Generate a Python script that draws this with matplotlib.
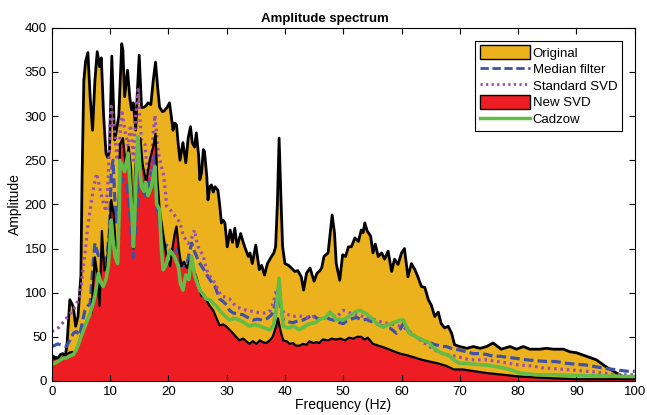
import numpy as np
import matplotlib.pyplot as plt
from matplotlib.patches import Patch
from matplotlib.lines import Line2D

plt.rcParams['font.family'] = ['Liberation Sans', 'DejaVu Sans']

# Original spectrum (frequency in Hz, amplitude)
f_orig = [0, 0.5, 1.1, 1.5, 1.9, 2.3, 2.6, 3.1, 3.7, 4.1, 4.5, 5.0, 5.2, 5.5, 5.8, 6.2, 6.6,
          7.0, 7.4, 7.8, 8.2, 8.5, 8.9, 9.3, 9.6, 9.9, 10.3, 10.8, 11.1, 11.5, 12.0, 12.2,
          12.5, 13.0, 13.4, 13.7, 14.0, 14.4, 14.7, 15.0, 15.4, 15.8, 16.2, 16.5, 17.0,
          17.4, 17.8, 18.2, 18.5, 19.0, 19.3, 19.8, 20.2, 20.5, 20.8, 21.1, 21.4, 21.7,
          22.0, 22.5, 23.0, 23.4, 23.8, 24.1, 24.5, 24.8, 25.2, 25.4, 25.7, 26.0, 26.2,
          26.6, 26.8, 27.1, 27.4, 27.7, 28.0, 28.5, 28.8, 29.1, 29.4, 29.7, 30.1, 30.6,
          31.0, 31.4, 31.8, 32.4, 32.8, 33.1, 33.7, 34.0, 34.4, 35.0, 35.3, 35.6, 36.0,
          36.5, 37.0, 37.7, 38.1, 38.4, 38.7, 39.0, 39.3, 39.6, 40.0, 40.6, 41.1, 41.7,
          42.2, 42.8, 43.2, 43.7, 44.3, 45.0, 45.5, 46.0, 46.3, 46.7, 47.4, 47.8, 48.1,
          48.5, 48.8, 49.4, 49.9, 50.4, 50.9, 51.4, 52.0, 52.6, 53.1, 53.4, 53.7, 54.1,
          54.7, 55.1, 55.5, 56.0, 56.6, 57.1, 57.7, 58.3, 58.8, 59.4, 60.0, 60.5, 61.1,
          61.7, 62.3, 62.8, 63.4, 64.0, 64.6, 65.1, 65.7, 66.3, 66.8, 67.4, 68.0, 68.6,
          69.1, 70.0, 71.2, 72.3, 73.5, 74.6, 75.7, 76.3, 77.1, 78.6, 79.7, 80.9, 82.0,
          83.7, 84.9, 86.0, 87.8, 88.9, 90.0, 91.7, 93.4, 95.1, 96.9, 98.0, 100]
a_orig = [29, 27, 26, 30, 31, 28, 40, 92, 84, 62, 73, 120, 230, 340, 362, 372, 320,
          284, 340, 373, 356, 366, 300, 258, 253, 260, 368, 273, 284, 300, 382, 375,
          322, 352, 320, 307, 315, 284, 330, 369, 310, 310, 312, 315, 313,
          340, 361, 330, 310, 305, 306, 310, 315, 300, 284, 292, 290, 268,
          250, 270, 247, 275, 288, 270, 265, 281, 255, 228, 236, 262, 260,
          231, 205, 220, 222, 214, 220, 216, 200, 179, 182, 179, 152, 171,
          157, 173, 152, 167, 158, 152, 141, 145, 133, 154, 140, 126, 131,
          120, 133, 141, 145, 152, 200, 275, 210, 152, 133, 131, 128, 124,
          125, 118, 103, 122, 128, 113, 122, 125, 128, 141, 145, 170, 188,
          168, 133, 114, 143, 141, 152, 152, 162, 158, 171, 168, 179, 170,
          164, 145, 155, 141, 145, 138, 147, 124, 138, 132, 145, 150, 118,
          133, 126, 118, 107, 106, 92, 86, 73, 78, 65, 60, 62, 54,
          41, 39, 37, 39, 37, 39, 43, 40, 36, 39, 36, 39, 36,
          36, 37, 36, 36, 33, 32, 28, 24, 16, 9, 5, 4]

# Median filter
f_med = [0, 0.4, 1.0, 1.5, 2.0, 2.5, 3.1, 3.7, 4.2, 4.8, 5.2, 5.7, 6.2, 6.6, 7.0, 7.4,
         8.0, 8.5, 9.0, 9.3, 9.9, 10.2, 10.5, 11.0, 11.5, 12, 13, 14, 15, 16, 17, 17.7,
         18.2, 18.8, 19.3, 19.7, 20.2, 20.6, 21.1, 21.5, 22.0, 22.6, 23.2, 23.6, 24.0,
         24.4, 24.8, 25.2, 25.7, 26.2, 26.8, 27.4, 28.0, 28.4, 28.8, 29.4, 30.0, 30.5,
         31.1, 31.9, 32.8, 33.6, 34.5, 35.3, 36.2, 37.0, 37.7, 38.3, 38.8, 39.2, 39.7,
         40.5, 41.4, 42.2, 43.1, 44.0, 44.8, 45.6, 46.5, 47.1, 47.7, 48.3, 48.8, 49.4,
         50.0, 50.6, 51.2, 51.8, 52.3, 52.9, 53.4, 54.0, 54.5, 55.1, 55.7, 56.3, 56.9,
         57.5, 58.0, 58.6, 59.1, 59.7, 60.3, 60.8, 61.4, 62.0, 62.5, 63.1, 63.7, 64.3,
         65.0, 65.8, 66.5, 67.1, 67.7, 68.5, 69.3, 70.0, 71.2, 72.3, 73.5, 74.6, 75.7,
         76.9, 78.0, 79.1, 80.3, 81.4, 83.0, 84.9, 86.5, 88.3, 90.0, 91.7, 93.4, 95.1,
         96.5, 97.4, 98.8, 100]
a_med = [39, 40, 42, 41, 40, 39, 46, 54, 56, 52, 65, 80, 85, 88, 125, 156,
         142, 145, 138, 130, 170, 235, 250, 180, 200, 230, 220, 140, 230, 210, 230, 255,
         190, 165, 150, 154, 150, 148, 141, 150, 137, 130, 133, 145, 156,
         148, 142, 135, 130, 125, 118, 112, 107, 100, 93, 90, 86, 80,
         77, 76, 75, 72, 69, 70, 69, 71, 75, 85, 103, 85, 69,
         67, 66, 68, 69, 72, 75, 70, 71, 72, 70, 69, 68, 66,
         65, 68, 70, 71, 72, 70, 69, 70, 68, 67, 65, 63, 62,
         61, 60, 57, 54, 58, 65, 60, 54, 52, 50, 48, 46, 44,
         43, 41, 40, 39, 39, 37, 36, 35, 33, 31, 31, 30, 28,
         28, 27, 26, 25, 24, 23, 22, 22, 20, 19, 18, 16, 14,
         13, 12, 11, 11]

# Standard SVD
f_ssvd = [0, 0.6, 1.3, 1.9, 2.5, 3.1, 3.7, 4.3, 4.8, 5.1, 5.4, 5.8, 6.1, 6.5, 6.8, 7.2,
          7.7, 8.2, 8.7, 9.3, 9.7, 10.0, 10.2, 10.5, 10.8, 11.2, 11.6, 12.0, 12.5, 13.1,
          13.5, 13.7, 14.0, 14.4, 14.8, 15.1, 15.4, 16.0, 16.5, 17.0, 17.4, 17.7, 18.0,
          18.3, 18.7, 19.1, 19.5, 19.7, 20.2, 20.8, 21.4, 22.0, 22.6, 23.0, 23.4, 23.9,
          24.5, 24.8, 25.1, 25.6, 26.0, 26.4, 26.8, 27.4, 28.0, 28.6, 29.1, 29.8, 30.5,
          31.1, 31.7, 32.5, 33.4, 34.2, 35.1, 36.0, 36.8, 37.5, 38.0, 38.5, 39.0, 39.4,
          39.8, 40.6, 41.4, 42.2, 43.0, 43.9, 44.8, 45.6, 46.5, 47.1, 47.7, 48.3, 48.8,
          49.4, 50.0, 50.6, 51.2, 51.8, 52.4, 53.4, 54.5, 55.7, 56.8, 58.0, 59.1, 60.3,
          61.4, 62.5, 63.7, 64.8, 66.0, 67.1, 68.3, 69.4, 70.5, 71.7, 73.2, 74.6, 76.5,
          78.5, 80.3, 82.5, 84.0, 86.0, 88.0, 90.0, 91.7, 93.5, 95.5, 97.4, 100]
a_ssvd = [56, 58, 61, 66, 71, 76, 80, 88, 96, 110, 129, 150, 171, 190, 204, 220,
          235, 220, 205, 192, 230, 290, 311, 295, 280, 250, 270, 307, 285, 266,
          290, 280, 250, 300, 330, 300, 272, 268, 228, 240, 280, 301, 280,
          258, 245, 236, 215, 198, 195, 190, 185, 179, 164, 160, 156, 160,
          171, 160, 152, 146, 141, 130, 122, 116, 111, 102, 96, 95, 93,
          88, 84, 82, 80, 79, 78, 77, 77, 80, 88, 103, 95, 84,
          77, 75, 73, 74, 73, 72, 73, 71, 69, 73, 77, 74, 72,
          76, 80, 78, 77, 76, 75, 73, 71, 69, 66, 65, 63, 61,
          56, 50, 44, 39, 34, 31, 29, 28, 26, 24, 24, 24, 22,
          20, 18, 17, 15, 14, 13, 12, 11, 10, 8, 7, 7]

# New SVD
f_nsvd = [0, 0.5, 1.0, 1.5, 2.0, 2.5, 3.0, 3.5, 4.0, 4.5, 5.0, 5.5, 6.0, 6.5, 6.8, 7.1,
          7.4, 7.8, 8.2, 8.6, 9.0, 9.4, 9.8, 10.2, 10.6, 11.0, 11.3, 11.7, 12.2, 12.7,
          13.2, 13.6, 14.0, 14.3, 14.8, 15.2, 15.6, 16.2, 16.8, 17.4, 17.8, 18.1, 18.5,
          19.1, 19.7, 20.3, 20.7, 21.1, 21.4, 21.8, 22.2, 22.7, 23.2, 23.6, 24.0, 24.4,
          24.8, 25.2, 25.7, 26.1, 26.5, 27.1, 27.7, 28.2, 28.8, 29.4, 29.9, 30.5, 31.1,
          31.6, 32.2, 32.8, 33.4, 33.9, 34.5, 35.1, 35.7, 36.2, 36.8, 37.4, 37.9, 38.4,
          38.8, 39.2, 39.7, 40.3, 40.8, 41.4, 41.9, 42.5, 43.1, 43.7, 44.2, 44.8, 45.4,
          45.9, 46.5, 47.4, 48.0, 48.8, 49.5, 50.3, 51.0, 51.7, 52.4, 53.1, 53.7, 54.2,
          55.1, 56.0, 57.4, 58.5, 59.7, 61.0, 62.5, 63.5, 64.8, 66.2, 67.7, 69.0, 70.5,
          72.5, 74.6, 77.5, 80.3, 83, 86, 90, 95, 100]
a_nsvd = [27, 25, 26, 24, 28, 30, 32, 33, 32, 40, 52, 60, 68, 75, 77, 110,
          140, 120, 85, 170, 125, 130, 160, 205, 190, 150, 140, 268, 275, 245,
          265, 240, 150, 240, 270, 275, 245, 225, 250, 265, 280, 230, 195,
          167, 141, 130, 150, 167, 175, 150, 130, 135, 128, 135, 141, 125,
          118, 108, 96, 98, 92, 85, 80, 72, 63, 64, 62, 58, 54,
          50, 46, 48, 45, 42, 45, 42, 46, 44, 43, 46, 50, 60,
          71, 58, 46, 45, 42, 43, 40, 40, 42, 41, 45, 43, 44,
          43, 47, 46, 48, 47, 48, 46, 49, 48, 50, 50, 47, 49,
          42, 40, 37, 34, 31, 29, 26, 24, 22, 20, 17, 13, 13,
          11, 9, 7, 5, 4, 3, 2, 2, 2]

# Cadzow
f_cad = [0, 0.5, 1.0, 1.5, 2.0, 2.5, 3.0, 3.7, 4.2, 4.8, 5.3, 5.9, 6.5, 7.1, 7.5, 8.0,
         8.4, 8.8, 9.3, 9.7, 10.0, 10.2, 10.5, 10.9, 11.3, 11.6, 11.7, 12.0, 12.5, 13.1,
         13.5, 13.8, 14.0, 14.2, 14.5, 14.8, 15.1, 15.4, 15.8, 16.1, 16.5, 17.1, 17.4,
         17.7, 18.0, 18.5, 18.8, 19.1, 19.7, 20.2, 20.6, 21.1, 21.7, 22.1, 22.5, 23.0,
         23.5, 24.0, 24.5, 25.0, 25.4, 26.0, 26.5, 27.1, 27.7, 28.2, 28.8, 29.5, 30.5,
         31.3, 32.2, 33.0, 33.9, 34.8, 35.7, 36.5, 37.4, 38.0, 38.4, 38.8, 39.0, 39.3,
         39.7, 40.5, 41.4, 42.0, 42.5, 43.4, 44.3, 45.2, 46.0, 47.0, 47.7, 48.2, 48.8,
         49.4, 50.0, 50.7, 51.4, 52.3, 52.9, 53.4, 54.0, 54.5, 55.1, 55.7, 56.3, 56.9,
         57.5, 58.0, 58.5, 59.1, 59.7, 60.3, 60.8, 61.4, 62.0, 62.5, 63.1, 63.7, 64.2,
         64.8, 65.4, 66.0, 66.5, 67.1, 67.7, 68.3, 68.8, 69.4, 70.0, 71.0, 72.5, 74.6,
         76.5, 78.0, 79.0, 80.3, 83.1, 86.0, 91.7, 100]
a_cad = [20, 20, 22, 24, 26, 26, 28, 30, 35, 46, 55, 65, 75, 88, 100, 122,
         112, 107, 115, 130, 160, 182, 160, 140, 133, 200, 250, 245, 237, 258,
         215, 185, 152, 180, 240, 277, 240, 220, 215, 225, 210, 220, 232,
         243, 200, 194, 150, 126, 133, 148, 145, 140, 130, 110, 103, 120,
         115, 141, 120, 110, 103, 98, 93, 92, 88, 85, 80, 75, 69,
         71, 69, 66, 62, 64, 62, 60, 58, 62, 75, 100, 116, 90,
         62, 60, 62, 60, 58, 62, 65, 66, 70, 72, 78, 75, 69,
         70, 69, 72, 75, 79, 80, 78, 76, 73, 70, 65, 63, 61,
         63, 64, 66, 67, 69, 69, 62, 54, 52, 50, 48, 46, 45,
         43, 38, 35, 33, 31, 30, 28, 25, 22, 20, 20, 19, 18,
         16, 14, 12, 9, 7, 7, 6, 5]

c_orig = '#ECB21E'
c_new = '#EE1D24'
c_med = '#3F51A9'
c_ssvd = '#9B4DB3'
c_cad = '#63BC46'

fig = plt.figure(figsize=(6.47, 4.15), dpi=100)
ax = fig.add_axes([0.080, 0.082, 0.901, 0.851])

ax.fill_between(f_orig, a_orig, color=c_orig, linewidth=0)
ax.plot(f_orig, a_orig, color='black', linewidth=2.0)
ax.plot(f_med, a_med, color=c_med, linewidth=2.3, dashes=(3, 1.3))
ax.plot(f_ssvd, a_ssvd, color=c_ssvd, linewidth=2.3, dashes=(0.8, 1.2))
ax.fill_between(f_nsvd, a_nsvd, color=c_new, linewidth=0)
ax.plot(f_nsvd, a_nsvd, color='black', linewidth=1.6)
ax.plot(f_cad, a_cad, color=c_cad, linewidth=2.6)

ax.set_xlim(0, 100)
ax.set_ylim(0, 400)
ax.set_xticks(np.arange(0, 101, 10))
ax.set_yticks(np.arange(0, 401, 50))
ax.tick_params(direction='in', top=True, right=True, length=4, labelsize=9.5)
for s in ax.spines.values():
    s.set_linewidth(0.8)

# title sits on the figure centre, not the axes centre
ax.set_title('Amplitude spectrum', fontsize=9.5, fontweight='bold', pad=4, x=0.468)
ax.set_xlabel('Frequency (Hz)', fontsize=10, labelpad=0)
ax.set_ylabel('Amplitude', fontsize=10, labelpad=2)

handles = [
    Patch(facecolor=c_orig, edgecolor='black', linewidth=1),
    Line2D([], [], color=c_med, linewidth=2, dashes=(3, 1.3)),
    Line2D([], [], color=c_ssvd, linewidth=2, dashes=(0.8, 1.2)),
    Patch(facecolor=c_new, edgecolor='black', linewidth=1),
    Line2D([], [], color=c_cad, linewidth=2.5),
]
labels = ['Original', 'Median filter', 'Standard SVD', 'New SVD', 'Cadzow']
leg = ax.legend(handles, labels, loc='upper right', bbox_to_anchor=(0.978, 0.963),
                borderaxespad=0, fontsize=9.5, handlelength=3.8, handleheight=1.15,
                handletextpad=0.2, labelspacing=0.2, borderpad=0.35,
                fancybox=False, framealpha=1, edgecolor='black')
leg.get_frame().set_linewidth(0.8)

fig.savefig('out.png', dpi=100)
